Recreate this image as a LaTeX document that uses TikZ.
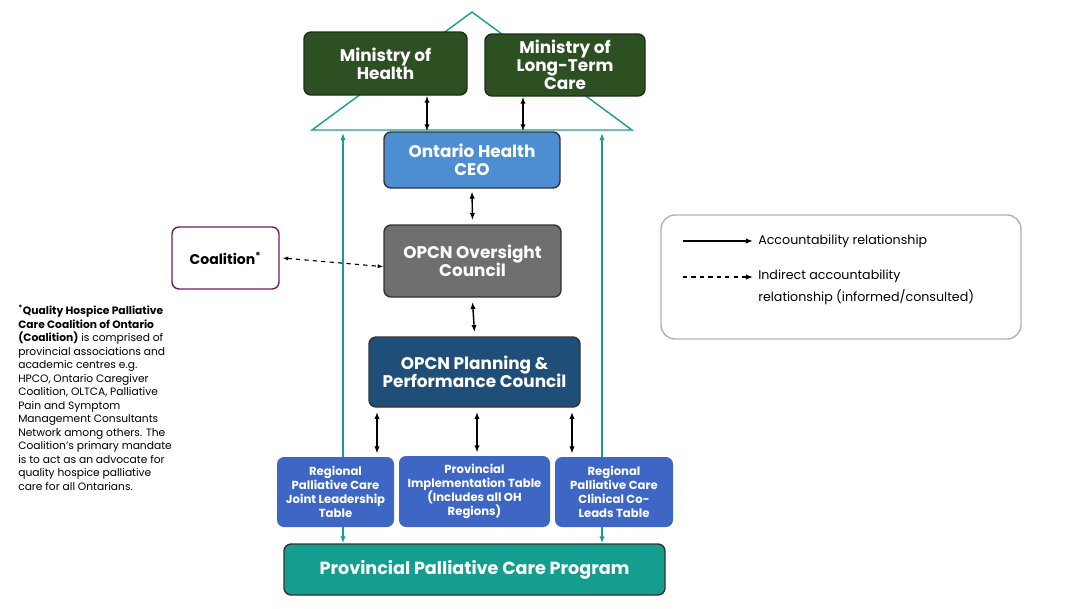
\documentclass[tikz,border=0pt]{standalone}
\usepackage{fontspec}
\setmainfont{Poppins}
\usetikzlibrary{arrows.meta}
\definecolor{mingreen}{HTML}{2D5022}
\definecolor{ohblue}{HTML}{4D8ED3}
\definecolor{oversight}{HTML}{6F6F6F}
\definecolor{planblue}{HTML}{1F4E79}
\definecolor{tableblue}{HTML}{3E66C4}
\definecolor{progteal}{HTML}{149E90}
\definecolor{lineteal}{HTML}{1A9C94}
\definecolor{coalpurple}{HTML}{6B2060}
\begin{document}
\begin{tikzpicture}[x=0.025cm, y=-0.025cm,
    box/.style={draw=black!80, line width=1pt, rounded corners=5pt, text=white,
        font=\bfseries\fontsize{12}{13}\selectfont, align=center, inner sep=0pt},
    wh/.style 2 args={minimum width=#1*0.025cm, minimum height=#2*0.025cm},
    tbl/.style={box, draw=none, fill=tableblue, font=\bfseries\fontsize{8.3}{10}\selectfont},
    acc/.style={{Latex[length=5pt]}-{Latex[length=5pt]}, line width=1pt},
    feed/.style={{Latex[length=5pt]}-{Latex[length=5pt]}, lineteal, line width=0.9pt}]
    \useasboundingbox (0,0) rectangle (1088,608);

    % Roof
    \draw[lineteal, line width=1pt] (312,130) -- (472,12) -- (632,130) -- cycle;

    % Boxes
    \node[box, fill=mingreen, draw=mingreen!60!black, wh={163}{63}] (moh) at (385.5,63.5) {Ministry of\\Health};
    \node[box, fill=mingreen, draw=mingreen!60!black, wh={160}{62}] (mltc) at (565,65) {Ministry of\\Long-Term\\Care};
    \node[box, fill=ohblue, wh={176}{56}] (ceo) at (472,160) {Ontario Health\\CEO};
    \node[box, fill=oversight, wh={177}{72}] (ovs) at (472.5,261) {OPCN Oversight\\Council};
    \node[box, fill=planblue, wh={211}{70}] (plan) at (474.5,372) {OPCN Planning \&\\Performance Council};

    % Teal lines behind the tables
    \coordinate (rl) at (343,130);
    \coordinate (rr) at (602,130);
    \node[box, fill=progteal, wh={381}{51}, font=\bfseries\fontsize{12.5}{14}\selectfont] (prog) at (474.5,569.5) {Provincial Palliative Care Program};
    \draw[feed] (rl) ++(0,3) -- (prog.north -| rl);
    \draw[feed] (rr) ++(0,3) -- (prog.north -| rr);

    \node[tbl, wh={117}{70}] (jlt) at (335.5,492) {Regional\\Palliative Care\\Joint Leadership\\Table};
    \node[tbl, wh={151}{71}] (pit) at (474.5,491.5) {Provincial\\Implementation Table\\(Includes all OH\\Regions)};
    \node[tbl, wh={118}{70}] (clt) at (614,492) {Regional\\Palliative Care\\Clinical Co-\\Leads Table};
    \node[box, fill=white, draw=coalpurple, text=black, font=\bfseries\fontsize{10}{11}\selectfont,
        wh={107}{62}] (coal) at (225.5,258) {Coalition\textsuperscript{*}};

    % Connectors
    \draw[acc] (moh.south -| 427,0) -- (ceo.north -| 427,0);
    \draw[acc] (mltc.south -| 523,0) -- (ceo.north -| 523,0);
    \draw[acc] ([yshift=-2]ceo.south) -- ([yshift=3]ovs.north);
    \draw[acc] ([yshift=-3]ovs.south) -- ([yshift=3]plan.north);
    \draw[acc] ([yshift=-3]plan.south -| 377,0) -- ([yshift=2]jlt.north -| 377,0);
    \draw[acc] ([yshift=-3]plan.south -| 477,0) -- ([yshift=2]pit.north -| 477,0);
    \draw[acc] ([yshift=-3]plan.south -| 572,0) -- ([yshift=2]clt.north -| 572,0);
    \draw[{Latex[length=4pt]}-{Latex[length=4pt]}, dashed, line width=0.8pt] ([xshift=2]coal.east) -- ([yshift=-4]ovs.west);

    % Footnote
    \node[anchor=north west, align=left, inner sep=0pt, font=\fontsize{7.6}{9.6}\selectfont] (note) at (18,305)
        {\textbf{\textsuperscript{*}Quality Hospice Palliative}\\\textbf{Care Coalition of Ontario}\\\textbf{(Coalition)} is comprised of\\provincial associations and\\academic centres e.g.\\HPCO, Ontario Caregiver\\Coalition, OLTCA, Palliative\\Pain and Symptom\\Management Consultants\\Network among others. The\\Coalition's primary mandate\\is to act as an advocate for\\quality hospice palliative\\care for all Ontarians.};

    % Legend
    \node[draw=black!30, line width=1pt, rounded corners=10pt, wh={360}{124}] (legend) at (841,277) {};
    \coordinate (la) at (683,241);
    \coordinate (lb) at (753,241);
    \coordinate (lc) at (683,277);
    \coordinate (ld) at (753,277);
    \draw[-{Latex[length=5pt]}, line width=0.8pt] (la) -- (lb);
    \draw[-{Latex[length=5pt]}, dashed, line width=0.8pt] (lc) -- (ld);
    \node[anchor=west, inner sep=0pt, font=\fontsize{9}{11}\selectfont] (lt1) at (758,241) {Accountability relationship};
    \node[anchor=north west, align=left, inner sep=0pt, font=\fontsize{9}{15}\selectfont] (lt2) at (758,270) {Indirect accountability\\relationship (informed/consulted)};
\end{tikzpicture}
\end{document}
